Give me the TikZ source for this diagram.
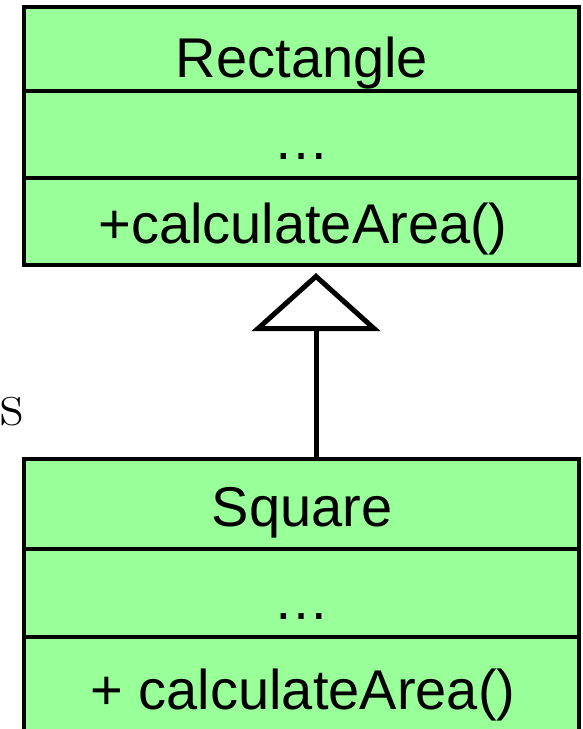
\documentclass[tikz,border=0pt]{standalone}
\usepackage{fontspec}
\newfontfamily\umlfont{Liberation Sans}
\usetikzlibrary{arrows.meta}
\definecolor{umlgreen}{HTML}{99FF99}
\tikzset{
  compart/.style={draw, fill=umlgreen, line width=3.5pt, minimum width=555pt, inner sep=0pt, outer sep=0pt},
  umltext/.style={anchor=base, inner sep=0pt, font=\umlfont\fontsize{56}{60}\selectfont},
}
\begin{document}
\begin{tikzpicture}[x=1pt,y=-1pt]
\useasboundingbox (0,0) rectangle (583,729);
\clip (0,0) rectangle (583,729);
% class Rectangle
\node[compart, minimum height=84pt] (rectname) at (301.5,49) {};
\node[compart, minimum height=87pt] (rectattr) at (301.5,134.5) {};
\node[compart, minimum height=87pt] (rectops) at (301.5,221.5) {};
\node[umltext] (rectlbl) at (302,77) {Rectangle};
\node[umltext] (rectdots) at (301.5,159) {…};
\node[umltext] (rectop) at (303,243) {+calculateArea()};
% class Square
\node[compart, minimum height=90pt] (sqname) at (301.5,504) {};
\node[compart, minimum height=92pt] (sqattr) at (301.5,595) {};
\node[compart, minimum height=100pt] (sqops) at (301.5,687) {};
\node[umltext] (sqlbl) at (302,526) {Square};
\node[umltext] (sqdots) at (301.5,619) {…};
\node[umltext] (sqop) at (303,709) {+ calculateArea()};
% generalisation, a bit right of centre
\coordinate (genfrom) at ([xshift=14.5pt]sqname.north);
\coordinate (gento) at ([xshift=14.5pt]rectops.south);
\draw[line width=5pt, shorten >=8pt, -{Triangle[open, length=58pt, width=128pt, line width=5pt]}] (genfrom) -- (gento);
\node[anchor=base, inner sep=0pt, font=\fontsize{64}{68}\selectfont] (stub) at (12,425) {s};
\end{tikzpicture}
\end{document}
